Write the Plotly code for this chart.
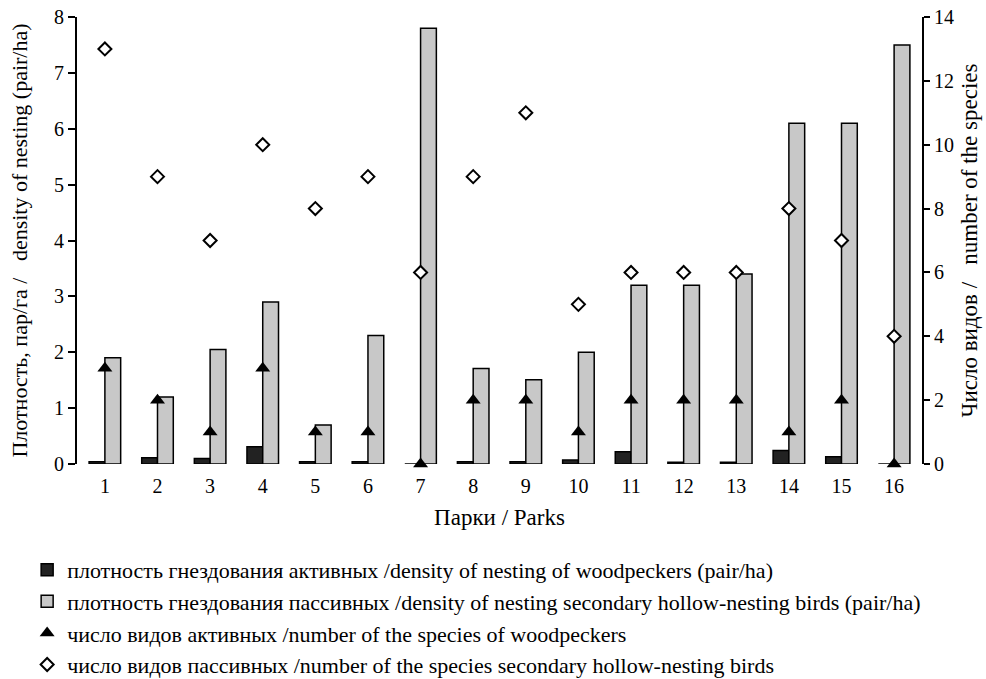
import plotly.graph_objects as go

parks = list(range(1, 17))
tick_labels = [str(p) for p in parks]
dens_woodpeckers = [0.04, 0.11, 0.1, 0.31, 0.04, 0.04, 0.0, 0.04, 0.04, 0.07, 0.22, 0.03, 0.03, 0.24, 0.13, 0.0]
dens_secondary = [1.9, 1.2, 2.05, 2.9, 0.7, 2.3, 7.8, 1.71, 1.51, 2.0, 3.2, 3.2, 3.4, 6.1, 6.1, 7.5]
species_woodpeckers = [3, 2, 1, 3, 1, 1, 0, 2, 2, 1, 2, 2, 2, 1, 2, 0]
species_secondary = [13, 9, 7, 10, 8, 9, 6, 9, 11, 5, 6, 6, 6, 8, 7, 4]

font_family = "Liberation Serif, Times New Roman, serif"

fig = go.Figure()
fig.add_trace(go.Bar(
    x=parks, y=dens_woodpeckers, width=0.3, offset=-0.3,
    marker=dict(color="#222222", line=dict(color="black", width=1.5)),
    name="плотность гнездования активных /density of nesting of woodpeckers (pair/ha)",
))
fig.add_trace(go.Bar(
    x=parks, y=dens_secondary, width=0.3, offset=0,
    marker=dict(color="#c8c8c8", line=dict(color="black", width=1.5)),
    name="плотность гнездования пассивных /density of nesting secondary hollow-nesting birds (pair/ha)",
))
fig.add_trace(go.Scatter(
    x=parks, y=species_woodpeckers, yaxis="y2", mode="markers",
    marker=dict(symbol="triangle-up", size=13, color="black", line=dict(color="black", width=0)),
    name="число видов активных /number of the species of woodpeckers",
    cliponaxis=False,
))
fig.add_trace(go.Scatter(
    x=parks, y=species_secondary, yaxis="y2", mode="markers",
    marker=dict(symbol="diamond", size=10, color="white", line=dict(color="black", width=2)),
    name="число видов пассивных /number of the species secondary hollow-nesting birds",
    cliponaxis=False,
))

fig.update_layout(
    width=986, height=679,
    margin=dict(l=77, r=64, t=17, b=215, autoexpand=False),
    paper_bgcolor="white", plot_bgcolor="white",
    font=dict(family=font_family, size=20, color="black"),
    barmode="overlay",
    showlegend=True,
    legend=dict(
        x=-0.059, y=-0.19, xanchor="left", yanchor="top",
        font=dict(family=font_family, size=22, color="black"),
        itemwidth=30, traceorder="normal",
    ),
    xaxis=dict(
        range=[0.47, 16.53], tickmode="array", tickvals=parks, ticktext=tick_labels,
        showgrid=False, zeroline=False, showline=False, ticks="",
        tickfont=dict(size=20), ticklabelstandoff=8,
        title=dict(text="Парки / Parks", font=dict(size=23), standoff=12),
    ),
    yaxis=dict(
        range=[0, 8], dtick=1, showgrid=False, zeroline=False,
        showline=True, linecolor="black", linewidth=2,
        ticks="outside", ticklen=7, tickwidth=2, tickcolor="black",
        tickfont=dict(size=20),
        title=dict(text="Плотность, пар/га /   density of nesting (pair/ha)", font=dict(size=22), standoff=20),
    ),
    yaxis2=dict(
        range=[0, 14], dtick=2, overlaying="y", side="right", showgrid=False, zeroline=False,
        showline=True, linecolor="black", linewidth=2,
        ticks="outside", ticklen=6, tickwidth=2, tickcolor="black",
        tickfont=dict(size=20),
        title=dict(text="Число видов /   number of the species", font=dict(size=23), standoff=8),
    ),
)

fig.write_html("out.html")
